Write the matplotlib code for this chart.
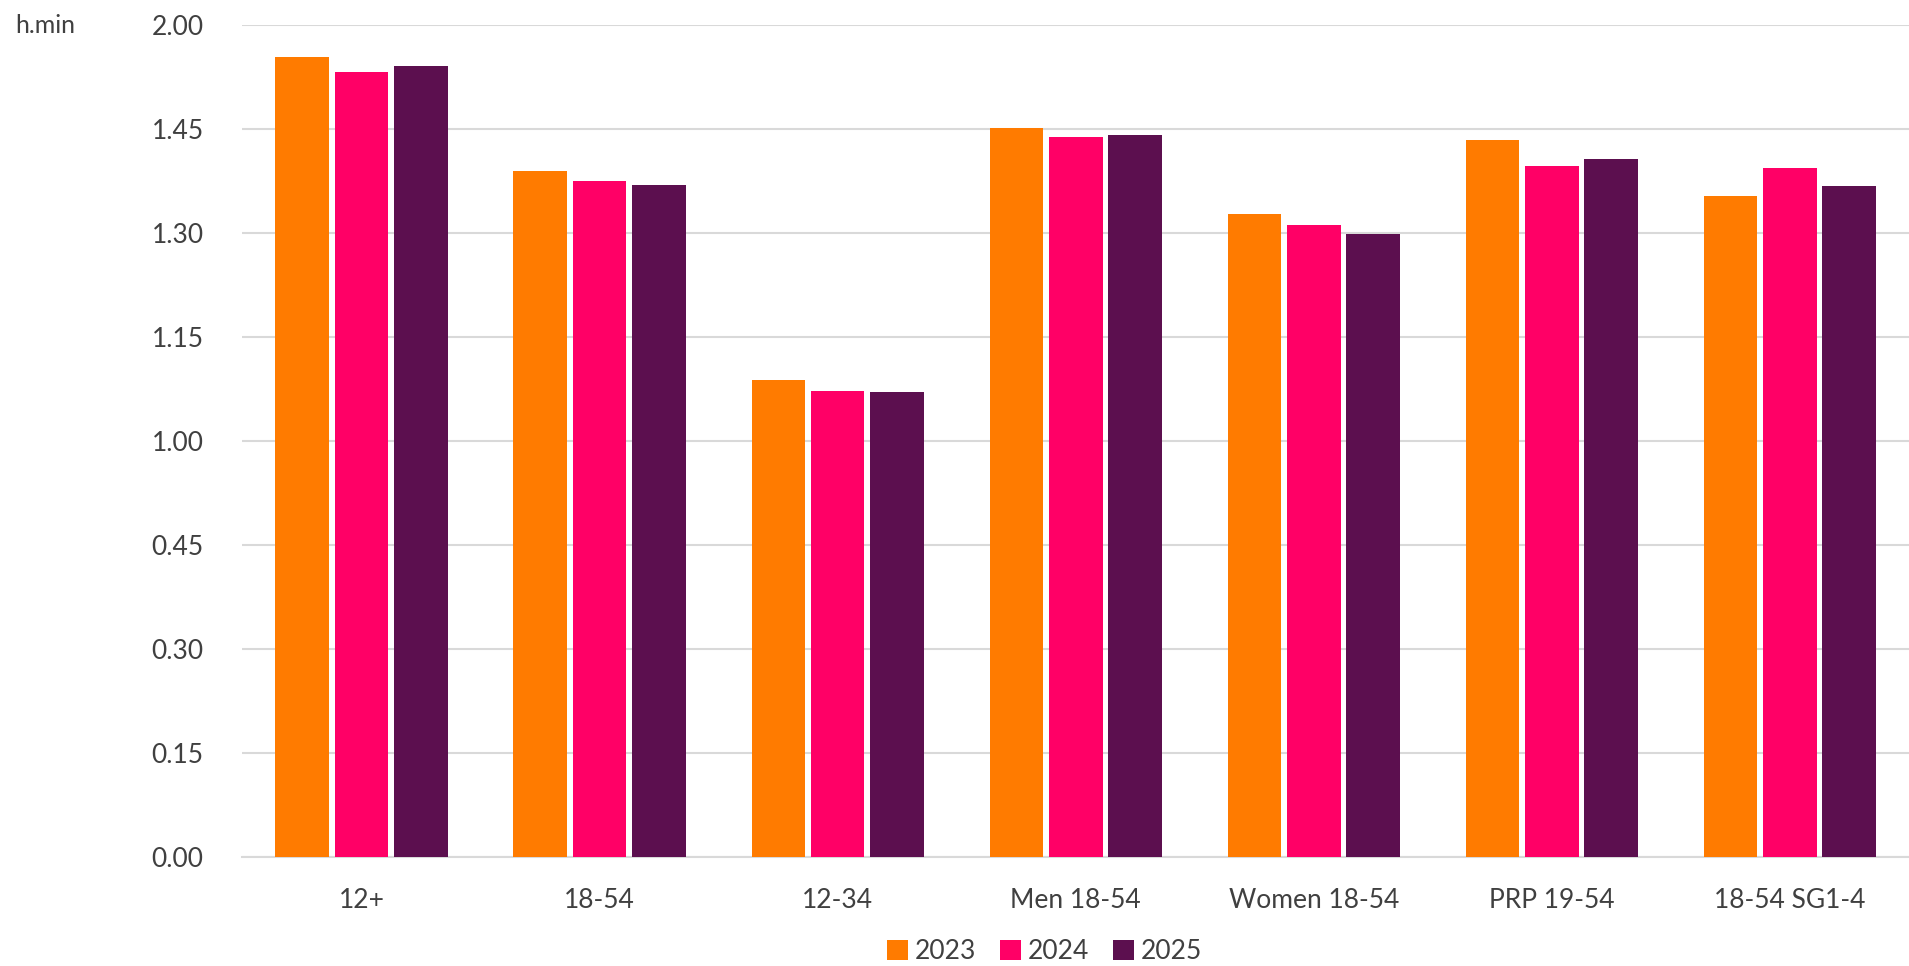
import numpy as np
import matplotlib.pyplot as plt
from matplotlib.ticker import FuncFormatter

# viewing time in minutes (axis is labelled in h.min)
groups = ['12+', '18-54', '12-34', 'Men 18-54', 'Women 18-54', 'PRP 19-54', '18-54 SG1-4']
years = ['2023', '2024', '2025']
min_2023 = [115.4, 98.9, 68.8, 105.1, 92.75, 103.4, 95.3]
min_2024 = [113.2, 97.5, 67.2, 103.8, 91.1, 99.6, 99.3]
min_2025 = [114.1, 96.9, 67.1, 104.1, 89.8, 100.7, 96.8]
y_ticks = [0, 15, 30, 45, 60, 75, 90, 105, 120]

colors = ['#FF7B00', '#FF0066', '#5C0F4F']
text_col = '#404040'

plt.rcParams['font.family'] = ['Lato', 'DejaVu Sans']

fig = plt.figure(figsize=(19.09, 9.66), dpi=100)
ax = fig.add_axes([0.127, 0.1128, 0.873, 0.8615])

x = np.arange(len(groups))
w = 0.225
step = 0.249
for i, (vals, c, lab) in enumerate(zip([min_2023, min_2024, min_2025], colors, years)):
    ax.bar(x + (i - 1) * step, vals, width=w, color=c, label=lab, zorder=3)

ax.set_xlim(-0.5, len(groups) - 0.5)
ax.set_ylim(0, 120)
ax.set_yticks(y_ticks)
ax.yaxis.set_major_formatter(FuncFormatter(lambda v, p: f"{int(v) // 60}.{int(v) % 60:02d}"))
ax.set_xticks(x)
ax.set_xticklabels(groups)

ax.grid(axis='y', color='#D9D9D9', lw=1.5, zorder=0)
for s in ['top', 'right', 'left']:
    ax.spines[s].set_visible(False)
ax.spines['bottom'].set_color('#D9D9D9')
ax.spines['bottom'].set_linewidth(1.5)
ax.tick_params(axis='both', length=0, labelsize=19, colors=text_col)
ax.tick_params(axis='y', pad=28)
ax.tick_params(axis='x', pad=22)

fig.text(0.008, 0.974, 'h.min', fontsize=18, color=text_col, va='center', ha='left')

fig.legend(loc='center', bbox_to_anchor=(0.547, 0.0145), ncol=3, frameon=False,
           fontsize=19, handlelength=0.8, handleheight=0.8, handletextpad=0.25,
           columnspacing=0.9, labelcolor=text_col)

fig.savefig('out.png', dpi=100)
